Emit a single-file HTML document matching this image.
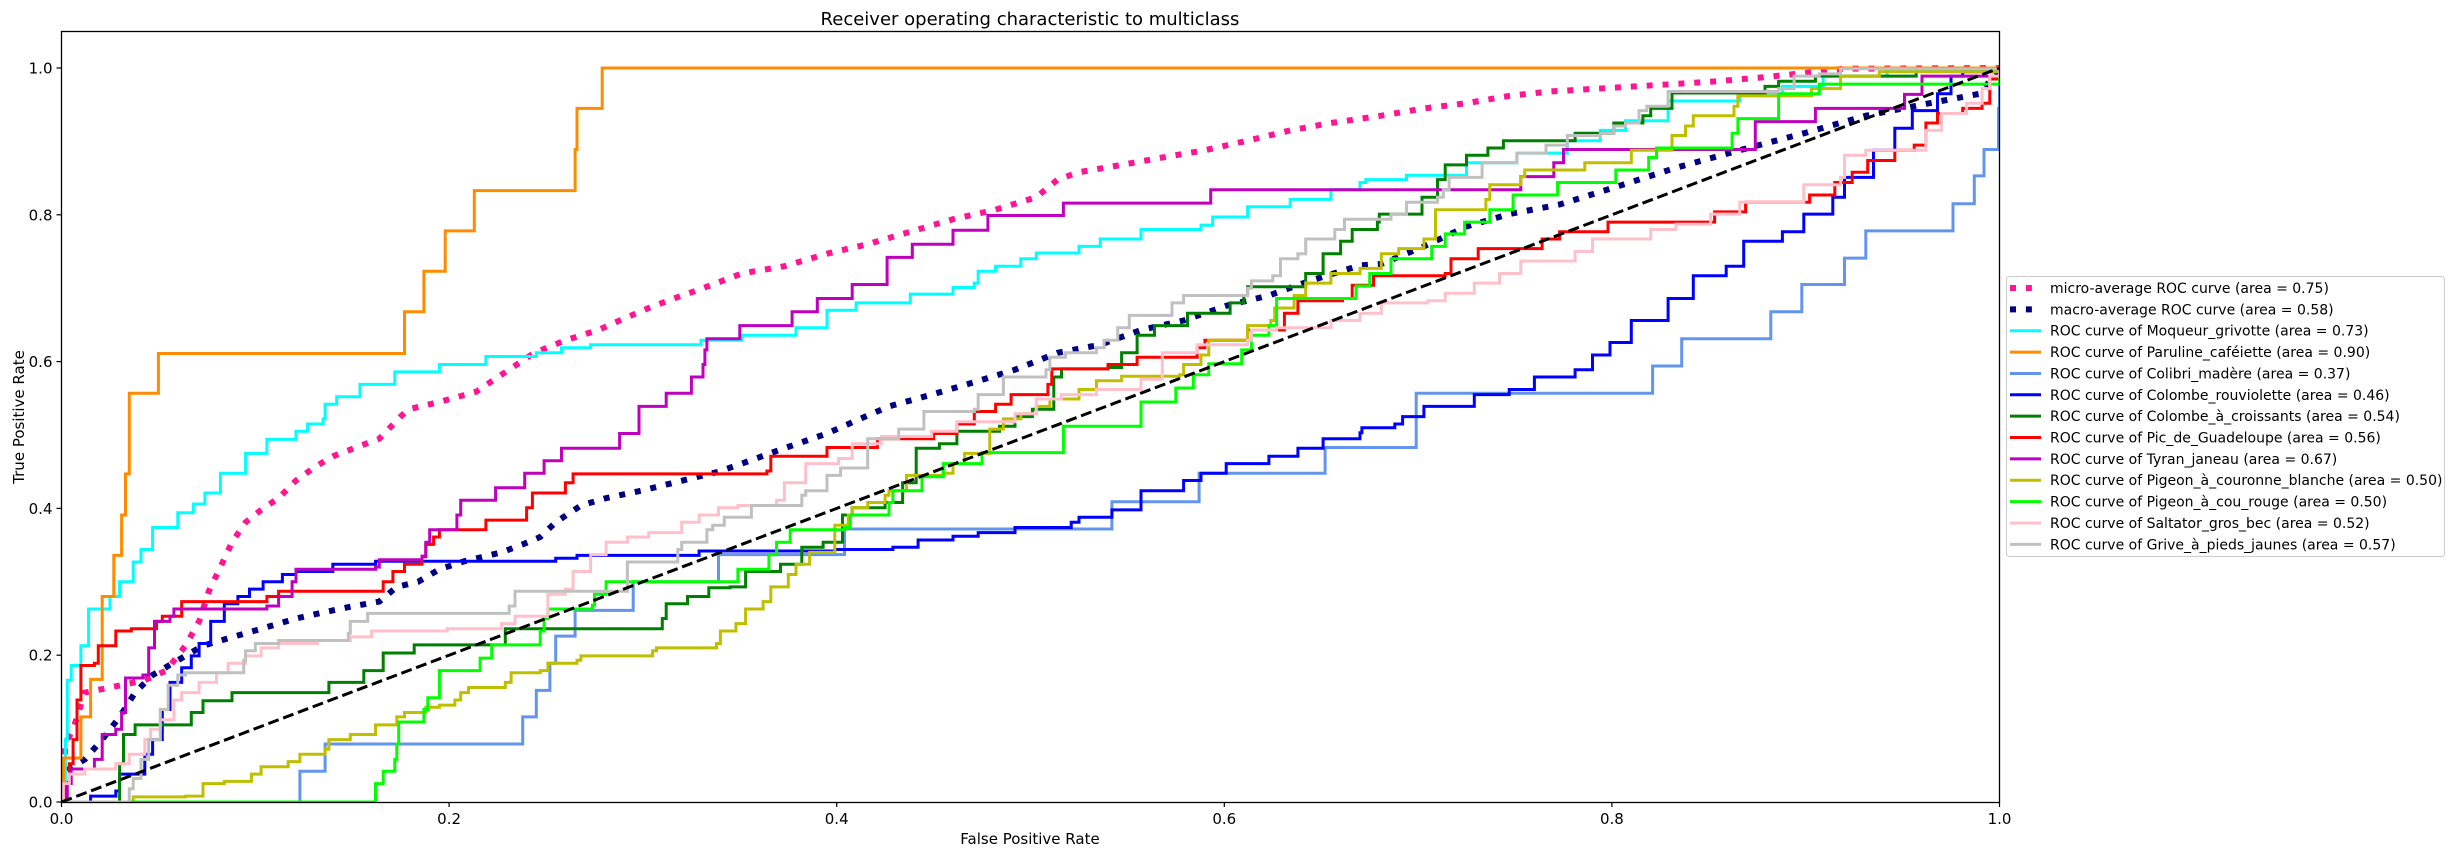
<!DOCTYPE html>
<html><head><meta charset="utf-8"><style>
html,body{margin:0;padding:0;background:#fff;}
svg{display:block;font-family:"DejaVu Sans","Liberation Sans",sans-serif;}
</style></head>
<body>
<svg id="chart" xmlns="http://www.w3.org/2000/svg" width="2455" height="855" viewBox="0 0 2455 855">
<defs><clipPath id="plotclip"><rect x="61.5" y="31.5" width="1938" height="771"/></clipPath></defs>
<text x="1030" y="25" font-size="18" text-anchor="middle" fill="#000">Receiver operating characteristic to multiclass</text>
<text x="1030" y="844" font-size="15" text-anchor="middle" fill="#000">False Positive Rate</text>
<text x="0" y="0" font-size="15" text-anchor="middle" fill="#000" transform="translate(24,417) rotate(-90)">True Positive Rate</text>
<g id="series" clip-path="url(#plotclip)"></g>
<rect x="61.5" y="31.5" width="1938" height="771" fill="none" stroke="#000" stroke-width="1.3"/>
<g id="ticks"></g>
<g id="legend"></g>
</svg>
<script>
const xTicks=[0,0.2,0.4,0.6,0.8,1.0];
const xTickLabels=["0.0","0.2","0.4","0.6","0.8","1.0"];
const yTicks=[0,0.2,0.4,0.6,0.8,1.0];
const yTickLabels=["0.0","0.2","0.4","0.6","0.8","1.0"];

const microFpr=[0,0.002,0.006,0.012,0.025,0.043,0.054,0.064,0.071,0.076,0.082,0.088,0.095,0.103,0.112,0.121,0.130,0.140,0.151,0.164,0.175,0.179,0.195,0.214,0.227,0.244,0.260,0.277,0.288,0.303,0.316,0.331,0.351,0.373,0.395,0.416,0.438,0.460,0.482,0.503,0.514,0.525,0.547,0.568,0.590,0.612,0.634,0.655,0.681,0.703,0.725,0.747,0.768,0.812,0.855,0.877,0.899,0.920,1.0];
const microTpr=[0,0.079,0.099,0.149,0.156,0.166,0.179,0.213,0.246,0.287,0.320,0.354,0.381,0.398,0.414,0.438,0.455,0.471,0.482,0.495,0.525,0.535,0.545,0.559,0.582,0.612,0.629,0.643,0.656,0.673,0.686,0.700,0.720,0.730,0.747,0.760,0.777,0.794,0.807,0.824,0.848,0.858,0.868,0.878,0.888,0.901,0.915,0.925,0.935,0.945,0.952,0.962,0.968,0.975,0.982,0.987,0.993,0.999,1.0];

const macroFpr=[0,0.004,0.012,0.021,0.030,0.038,0.047,0.060,0.073,0.086,0.103,0.121,0.138,0.151,0.164,0.173,0.184,0.195,0.208,0.227,0.238,0.247,0.255,0.268,0.281,0.299,0.316,0.339,0.351,0.373,0.395,0.412,0.427,0.449,0.471,0.492,0.514,0.536,0.557,0.579,0.601,0.623,0.644,0.670,0.681,0.703,0.725,0.747,0.773,0.801,0.833,0.866,0.899,0.931,0.964,0.990,1.0];
const macroTpr=[0,0.045,0.058,0.085,0.116,0.149,0.173,0.193,0.213,0.223,0.236,0.250,0.260,0.267,0.273,0.293,0.300,0.317,0.328,0.340,0.351,0.361,0.381,0.404,0.414,0.424,0.435,0.450,0.461,0.482,0.502,0.522,0.539,0.555,0.572,0.589,0.612,0.623,0.643,0.656,0.676,0.690,0.710,0.731,0.733,0.757,0.784,0.801,0.814,0.837,0.864,0.888,0.911,0.935,0.952,0.965,1.0];

const moqueurFpr=[0,0.002,0.003,0.005,0.010,0.014,0.025,0.030,0.037,0.041,0.047,0.060,0.068,0.074,0.082,0.095,0.106,0.121,0.127,0.135,0.136,0.142,0.154,0.172,0.195,0.219,0.245,0.258,0.273,0.330,0.351,0.379,0.395,0.410,0.438,0.460,0.471,0.473,0.482,0.495,0.503,0.525,0.536,0.557,0.588,0.594,0.612,0.634,0.655,0.670,0.673,0.694,0.725,0.751,0.777,0.794,0.807,0.829,0.866,0.888,0.909,0.942,1.0];
const moqueurTpr=[0,0.085,0.166,0.186,0.213,0.263,0.280,0.300,0.327,0.344,0.374,0.394,0.406,0.421,0.448,0.475,0.494,0.505,0.515,0.522,0.542,0.552,0.569,0.586,0.596,0.607,0.612,0.619,0.623,0.629,0.636,0.646,0.670,0.680,0.692,0.701,0.707,0.723,0.730,0.740,0.748,0.757,0.767,0.780,0.786,0.797,0.811,0.821,0.834,0.844,0.848,0.854,0.871,0.884,0.901,0.915,0.928,0.955,0.965,0.975,0.989,0.997,1.0];

const parulineFpr=[0,0.001,0.010,0.015,0.021,0.027,0.031,0.033,0.035,0.050,0.177,0.187,0.198,0.213,0.265,0.266,0.279,1.0];
const parulineTpr=[0,0.060,0.116,0.167,0.280,0.336,0.391,0.447,0.557,0.611,0.668,0.723,0.778,0.833,0.889,0.945,1.0,1.0];

const colibriFpr=[0,0.123,0.136,0.238,0.245,0.252,0.255,0.265,0.295,0.339,0.404,0.542,0.587,0.652,0.699,0.821,0.836,0.882,0.898,0.920,0.931,0.976,0.987,0.992,0.9995,1.0];
const colibriTpr=[0,0.042,0.079,0.116,0.152,0.189,0.226,0.261,0.300,0.337,0.372,0.409,0.448,0.483,0.557,0.594,0.631,0.668,0.705,0.741,0.778,0.815,0.853,0.889,0.945,1.0];

const rouviFpr=[0,0.015,0.028,0.030,0.043,0.047,0.052,0.056,0.062,0.067,0.071,0.077,0.084,0.091,0.097,0.104,0.114,0.121,0.140,0.162,0.255,0.266,0.329,0.399,0.429,0.442,0.460,0.473,0.492,0.521,0.525,0.542,0.557,0.579,0.588,0.601,0.623,0.638,0.651,0.670,0.671,0.688,0.692,0.703,0.729,0.747,0.760,0.781,0.790,0.799,0.810,0.829,0.842,0.859,0.868,0.888,0.899,0.914,0.920,0.935,0.946,0.955,0.968,0.975,0.981,1.0];
const rouviTpr=[0,0.008,0.015,0.038,0.065,0.085,0.126,0.163,0.183,0.199,0.216,0.246,0.270,0.280,0.290,0.300,0.310,0.314,0.324,0.328,0.332,0.336,0.342,0.344,0.347,0.357,0.362,0.367,0.374,0.381,0.388,0.398,0.424,0.438,0.448,0.461,0.471,0.482,0.495,0.503,0.510,0.515,0.525,0.539,0.555,0.562,0.579,0.589,0.609,0.626,0.656,0.686,0.717,0.730,0.764,0.777,0.801,0.824,0.851,0.888,0.918,0.942,0.965,0.989,0.995,1.0];

const croissFpr=[0,0.030,0.032,0.038,0.067,0.073,0.088,0.138,0.156,0.166,0.182,0.229,0.310,0.312,0.323,0.334,0.345,0.353,0.371,0.382,0.393,0.403,0.408,0.425,0.434,0.441,0.453,0.462,0.484,0.492,0.501,0.512,0.516,0.540,0.547,0.555,0.564,0.581,0.603,0.610,0.612,0.642,0.651,0.660,0.666,0.679,0.680,0.702,0.710,0.714,0.725,0.736,0.744,0.781,0.801,0.816,0.820,0.831,0.879,0.886,0.905,0.957,1.0];
const croissTpr=[0,0.052,0.092,0.105,0.122,0.138,0.149,0.163,0.179,0.203,0.214,0.236,0.250,0.270,0.280,0.292,0.293,0.314,0.324,0.347,0.354,0.391,0.401,0.408,0.435,0.482,0.488,0.505,0.512,0.525,0.535,0.579,0.590,0.592,0.612,0.636,0.649,0.666,0.680,0.690,0.702,0.720,0.747,0.764,0.780,0.790,0.801,0.824,0.848,0.868,0.881,0.891,0.901,0.911,0.925,0.935,0.945,0.966,0.975,0.982,0.989,0.999,1.0];

const picFpr=[0,0.002,0.004,0.006,0.008,0.010,0.017,0.019,0.028,0.036,0.049,0.052,0.062,0.106,0.112,0.166,0.171,0.177,0.186,0.188,0.192,0.195,0.219,0.240,0.243,0.260,0.264,0.364,0.366,0.395,0.421,0.450,0.462,0.471,0.482,0.490,0.509,0.511,0.540,0.555,0.586,0.590,0.612,0.631,0.638,0.661,0.666,0.677,0.714,0.717,0.731,0.764,0.773,0.798,0.853,0.869,0.902,0.915,0.924,0.932,0.946,0.956,0.962,0.968,0.981,0.991,0.995,1.0];
const picTpr=[0,0.025,0.052,0.085,0.139,0.186,0.189,0.213,0.233,0.236,0.246,0.253,0.273,0.280,0.287,0.300,0.314,0.324,0.334,0.351,0.361,0.371,0.384,0.401,0.421,0.435,0.447,0.451,0.471,0.483,0.495,0.502,0.515,0.532,0.542,0.555,0.569,0.590,0.596,0.606,0.619,0.629,0.643,0.666,0.683,0.686,0.704,0.717,0.720,0.740,0.754,0.767,0.777,0.790,0.804,0.817,0.827,0.844,0.858,0.874,0.888,0.895,0.925,0.938,0.945,0.952,0.985,1.0];

const tyranFpr=[0,0.003,0.005,0.017,0.021,0.028,0.031,0.033,0.042,0.045,0.048,0.056,0.058,0.106,0.112,0.119,0.121,0.162,0.164,0.186,0.188,0.190,0.204,0.206,0.224,0.239,0.249,0.258,0.288,0.298,0.312,0.325,0.331,0.332,0.333,0.350,0.377,0.390,0.408,0.426,0.439,0.460,0.478,0.517,0.593,0.753,0.770,0.775,0.874,0.905,0.951,0.960,1.0];
const tyranTpr=[0,0.025,0.045,0.058,0.092,0.099,0.122,0.169,0.173,0.210,0.246,0.253,0.263,0.267,0.280,0.300,0.317,0.320,0.330,0.335,0.354,0.371,0.391,0.411,0.428,0.448,0.465,0.482,0.502,0.539,0.557,0.579,0.596,0.616,0.631,0.649,0.668,0.686,0.705,0.742,0.760,0.779,0.799,0.816,0.834,0.852,0.871,0.889,0.927,0.945,0.964,0.989,1.0];

const couronneFpr=[0,0.037,0.064,0.073,0.084,0.098,0.103,0.117,0.123,0.136,0.138,0.149,0.162,0.173,0.177,0.188,0.195,0.203,0.206,0.210,0.229,0.232,0.247,0.251,0.266,0.268,0.305,0.307,0.338,0.340,0.348,0.353,0.362,0.366,0.375,0.379,0.386,0.399,0.406,0.408,0.416,0.425,0.427,0.436,0.455,0.460,0.466,0.479,0.486,0.495,0.503,0.510,0.525,0.534,0.547,0.577,0.579,0.588,0.592,0.612,0.624,0.626,0.636,0.642,0.655,0.670,0.681,0.690,0.703,0.709,0.735,0.737,0.753,0.755,0.786,0.810,0.831,0.838,0.842,0.863,0.865,0.903,0.918,0.938,1.0];
const couronneTpr=[0,0.007,0.008,0.025,0.028,0.038,0.048,0.055,0.065,0.072,0.085,0.092,0.105,0.116,0.122,0.129,0.132,0.139,0.149,0.156,0.163,0.176,0.179,0.189,0.193,0.199,0.206,0.210,0.216,0.233,0.243,0.263,0.273,0.293,0.310,0.324,0.340,0.377,0.391,0.401,0.408,0.418,0.424,0.445,0.448,0.461,0.475,0.508,0.522,0.529,0.539,0.549,0.562,0.574,0.580,0.582,0.596,0.609,0.629,0.649,0.656,0.673,0.690,0.707,0.720,0.727,0.747,0.754,0.767,0.807,0.821,0.841,0.852,0.861,0.871,0.888,0.908,0.921,0.935,0.948,0.962,0.972,0.989,0.995,1.0];

const couRougeFpr=[0,0.162,0.166,0.172,0.173,0.174,0.187,0.189,0.195,0.216,0.222,0.247,0.249,0.251,0.274,0.275,0.281,0.349,0.365,0.369,0.376,0.404,0.407,0.427,0.429,0.444,0.455,0.475,0.517,0.557,0.575,0.584,0.592,0.609,0.614,0.623,0.627,0.668,0.675,0.686,0.707,0.714,0.724,0.737,0.749,0.772,0.802,0.819,0.823,0.862,0.865,0.886,0.907,1.0];
const couRougeTpr=[0,0.025,0.042,0.058,0.079,0.109,0.126,0.142,0.179,0.196,0.214,0.233,0.250,0.263,0.268,0.283,0.300,0.317,0.337,0.354,0.371,0.374,0.391,0.408,0.424,0.443,0.461,0.476,0.512,0.545,0.564,0.582,0.597,0.616,0.636,0.649,0.686,0.703,0.720,0.740,0.757,0.774,0.790,0.807,0.827,0.844,0.861,0.878,0.891,0.911,0.931,0.965,0.978,1.0];

const saltatorFpr=[0,0.001,0.004,0.012,0.028,0.035,0.043,0.046,0.051,0.058,0.062,0.071,0.080,0.086,0.095,0.103,0.112,0.132,0.149,0.160,0.199,0.227,0.234,0.251,0.260,0.264,0.273,0.281,0.292,0.303,0.320,0.329,0.339,0.349,0.369,0.373,0.384,0.401,0.408,0.423,0.449,0.462,0.492,0.503,0.516,0.534,0.557,0.568,0.586,0.612,0.614,0.627,0.655,0.670,0.681,0.705,0.714,0.729,0.742,0.753,0.781,0.790,0.820,0.833,0.851,0.866,0.899,0.918,0.920,0.931,0.962,0.970,0.983,0.991,0.995,1.0];
const saltatorTpr=[0,0.025,0.038,0.045,0.052,0.065,0.085,0.099,0.112,0.139,0.149,0.163,0.176,0.189,0.199,0.210,0.216,0.220,0.225,0.233,0.236,0.243,0.253,0.283,0.290,0.314,0.337,0.354,0.361,0.367,0.381,0.391,0.401,0.404,0.411,0.435,0.461,0.468,0.488,0.498,0.505,0.518,0.529,0.549,0.555,0.562,0.576,0.612,0.623,0.629,0.643,0.646,0.656,0.666,0.680,0.683,0.693,0.707,0.720,0.737,0.750,0.767,0.780,0.787,0.801,0.817,0.841,0.851,0.881,0.888,0.915,0.938,0.952,0.972,0.989,1.0];

const griveFpr=[0,0.035,0.037,0.041,0.045,0.051,0.055,0.060,0.064,0.094,0.095,0.100,0.112,0.148,0.149,0.158,0.179,0.231,0.234,0.251,0.292,0.298,0.318,0.320,0.333,0.336,0.342,0.356,0.382,0.384,0.395,0.402,0.416,0.432,0.445,0.471,0.473,0.486,0.508,0.510,0.518,0.534,0.538,0.545,0.551,0.573,0.579,0.612,0.614,0.625,0.629,0.638,0.642,0.657,0.662,0.686,0.694,0.710,0.713,0.716,0.733,0.751,0.766,0.777,0.794,0.801,0.807,0.814,0.818,0.829,0.886,0.894,0.907,0.918,1.0];
const griveTpr=[0,0.018,0.032,0.058,0.085,0.126,0.159,0.173,0.176,0.193,0.206,0.216,0.220,0.230,0.246,0.257,0.257,0.267,0.287,0.287,0.327,0.327,0.344,0.354,0.371,0.377,0.388,0.404,0.418,0.424,0.445,0.455,0.495,0.508,0.532,0.535,0.555,0.579,0.589,0.606,0.612,0.619,0.629,0.646,0.663,0.680,0.690,0.700,0.710,0.717,0.740,0.747,0.767,0.780,0.794,0.801,0.817,0.824,0.834,0.851,0.871,0.884,0.895,0.908,0.911,0.921,0.925,0.942,0.948,0.968,0.972,0.989,0.992,0.999,1.0];

const diagFpr=[0,1];
const diagTpr=[0,1];

const seriesNames=["micro-average ROC curve (area = 0.75)","macro-average ROC curve (area = 0.58)","ROC curve of Moqueur_grivotte (area = 0.73)","ROC curve of Paruline_caféiette (area = 0.90)","ROC curve of Colibri_madère (area = 0.37)","ROC curve of Colombe_rouviolette (area = 0.46)","ROC curve of Colombe_à_croissants (area = 0.54)","ROC curve of Pic_de_Guadeloupe (area = 0.56)","ROC curve of Tyran_janeau (area = 0.67)","ROC curve of Pigeon_à_couronne_blanche (area = 0.50)","ROC curve of Pigeon_à_cou_rouge (area = 0.50)","ROC curve of Saltator_gros_bec (area = 0.52)","ROC curve of Grive_à_pieds_jaunes (area = 0.57)"];

const NS="http://www.w3.org/2000/svg";
const X0=61.5,X1=1999.5,YB=802,Y1=68;
function xs(v){return X0+v*(X1-X0);}
function ys(v){return YB-v*(YB-Y1);}

const series=[
 {f:microFpr,t:microTpr,c:"#ff1493",w:6,d:"6,9.9",step:false,n:"micro-average-curve"},
 {f:macroFpr,t:macroTpr,c:"#000080",w:6,d:"6,9.9",step:false,n:"macro-average-curve"},
 {f:moqueurFpr,t:moqueurTpr,c:"#00ffff",w:3,step:true,n:"moqueur-curve"},
 {f:parulineFpr,t:parulineTpr,c:"#ff8c00",w:3,step:true,n:"paruline-curve"},
 {f:colibriFpr,t:colibriTpr,c:"#6495ed",w:3,step:true,n:"colibri-curve"},
 {f:rouviFpr,t:rouviTpr,c:"#0000ff",w:3,step:true,n:"colombe-rouviolette-curve"},
 {f:croissFpr,t:croissTpr,c:"#008000",w:3,step:true,n:"colombe-croissants-curve"},
 {f:picFpr,t:picTpr,c:"#ff0000",w:3,step:true,n:"pic-guadeloupe-curve"},
 {f:tyranFpr,t:tyranTpr,c:"#bf00bf",w:3,step:true,n:"tyran-janeau-curve"},
 {f:couronneFpr,t:couronneTpr,c:"#bfbf00",w:3,step:true,n:"pigeon-couronne-curve"},
 {f:couRougeFpr,t:couRougeTpr,c:"#00ff00",w:3,step:true,n:"pigeon-cou-rouge-curve"},
 {f:saltatorFpr,t:saltatorTpr,c:"#ffc0cb",w:3,step:true,n:"saltator-curve"},
 {f:griveFpr,t:griveTpr,c:"#c0c0c0",w:3,step:true,n:"grive-curve"}
];

const g=document.getElementById("series");
function draw(s){
  let pts=[[xs(s.f[0]),ys(s.t[0])]];
  for(let i=1;i<s.f.length;i++){
    if(s.step) pts.push([xs(s.f[i]),ys(s.t[i-1])]);
    pts.push([xs(s.f[i]),ys(s.t[i])]);
  }
  const p=document.createElementNS(NS,"polyline");
  p.setAttribute("points",pts.map(q=>q[0].toFixed(1)+","+q[1].toFixed(1)).join(" "));
  p.setAttribute("fill","none");
  p.setAttribute("stroke",s.c);
  p.setAttribute("stroke-width",s.w);
  p.setAttribute("stroke-linejoin","miter");
  if(s.d) p.setAttribute("stroke-dasharray",s.d);
  
  
  g.appendChild(p);
}
series.forEach(draw);
draw({f:diagFpr,t:diagTpr,c:"#000",w:3,d:"11,4.8",step:false,n:"chance-diagonal"});

const tg=document.getElementById("ticks");
xTicks.forEach((v,i)=>{
  const l=document.createElementNS(NS,"line");
  l.setAttribute("x1",xs(v));l.setAttribute("x2",xs(v));l.setAttribute("y1",YB);l.setAttribute("y2",YB+5);
  l.setAttribute("stroke","#000");l.setAttribute("stroke-width","1.2");
  
  
  tg.appendChild(l);
  const t=document.createElementNS(NS,"text");
  t.setAttribute("x",xs(v));t.setAttribute("y",YB+22);t.setAttribute("font-size","15");t.setAttribute("text-anchor","middle");
  t.textContent=xTickLabels[i];
  
  
  tg.appendChild(t);
});
yTicks.forEach((v,i)=>{
  const l=document.createElementNS(NS,"line");
  l.setAttribute("x1",X0-5);l.setAttribute("x2",X0);l.setAttribute("y1",ys(v));l.setAttribute("y2",ys(v));
  l.setAttribute("stroke","#000");l.setAttribute("stroke-width","1.2");
  
  
  tg.appendChild(l);
  const t=document.createElementNS(NS,"text");
  t.setAttribute("x",X0-9);t.setAttribute("y",ys(v)+5.5);t.setAttribute("font-size","15");t.setAttribute("text-anchor","end");
  t.textContent=yTickLabels[i];
  
  
  tg.appendChild(t);
});

const lg=document.getElementById("legend");
const box=document.createElementNS(NS,"rect");
box.setAttribute("x",2006.5);box.setAttribute("y",276.5);box.setAttribute("width",438);box.setAttribute("height",280);
box.setAttribute("rx",3);box.setAttribute("fill","#fff");box.setAttribute("fill-opacity","0.8");box.setAttribute("stroke","#ccc");


lg.appendChild(box);
series.forEach((s,i)=>{
  const y=288+i*21.36;
  const l=document.createElementNS(NS,"line");
  l.setAttribute("x1",2010);l.setAttribute("x2",2041);l.setAttribute("y1",y);l.setAttribute("y2",y);
  l.setAttribute("stroke",s.c);l.setAttribute("stroke-width",s.w);
  if(s.d) l.setAttribute("stroke-dasharray",s.d);
  
  
  lg.appendChild(l);
  const t=document.createElementNS(NS,"text");
  t.setAttribute("x",2050);t.setAttribute("y",y+5);t.setAttribute("font-size","14");
  t.textContent=seriesNames[i];
  
  
  lg.appendChild(t);
});
</script>
</body></html>
